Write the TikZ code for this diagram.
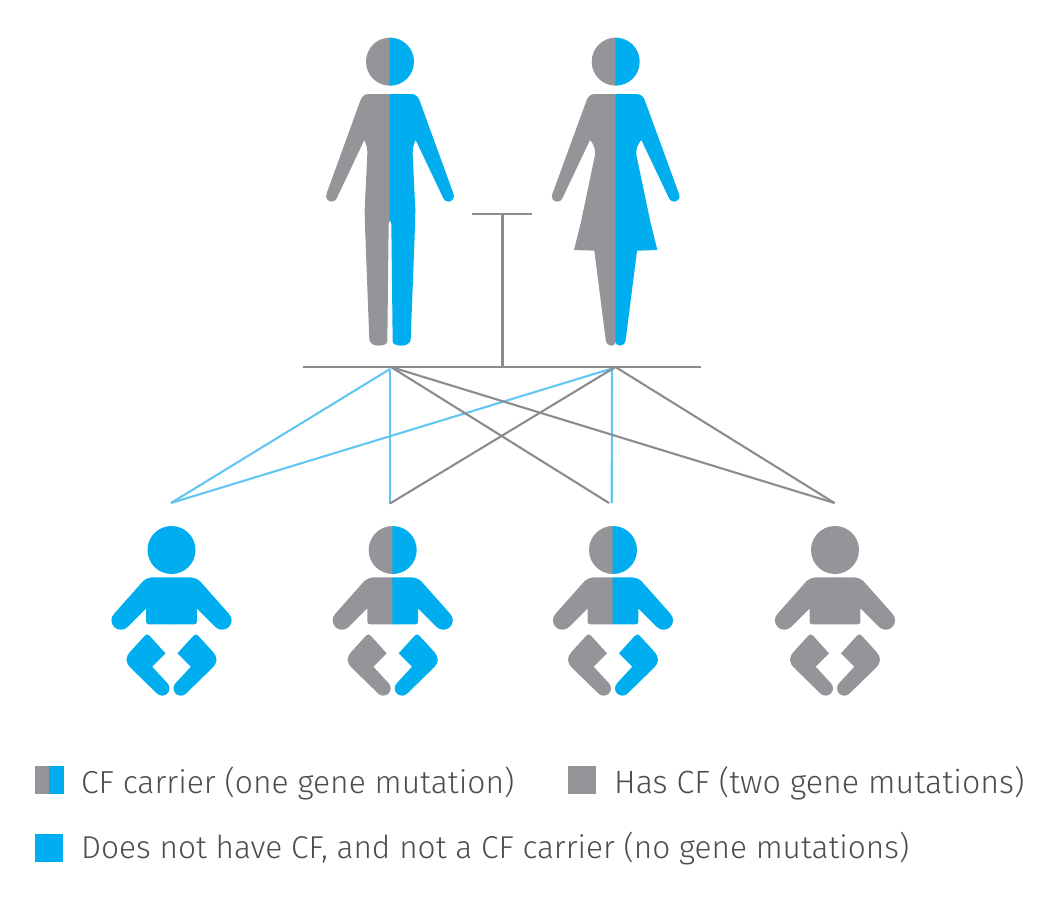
\documentclass[tikz,border=0pt]{standalone}
\usepackage{fontspec}
\setmainfont{Fira Sans Light}
\definecolor{cfgray}{HTML}{939598}
\definecolor{cfblue}{HTML}{00AEEF}
\definecolor{linegray}{HTML}{8C8C90}
\definecolor{lineblue}{HTML}{62C6F2}
\definecolor{txt}{HTML}{4D4D4F}
\tikzset{
  grayline/.style={draw=linegray,line width=2.1pt},
  blueline/.style={draw=lineblue,line width=2.1pt},
  legendtext/.style={anchor=base west,inner sep=0pt,text=txt,font=\fontsize{31.7}{33}\selectfont},
  swatch/.style={draw=none,minimum width=28pt,minimum height=28pt,inner sep=0pt,anchor=north west}
}
% half shapes: x relative to axis, y in zoom units
\newcommand{\halfhead}[2]{\fill[#1] (1,#2-72) -- (0,#2-72) .. controls (-40,#2-72) and (-72,#2-40) .. (-72,#2) .. controls (-72,#2+40) and (-40,#2+72) .. (0,#2+72) -- (1,#2+72) -- cycle;}
\newcommand{\manhalf}[1]{%
  \halfhead{#1}{125}
  \fill[#1] (1,222) -- (-65,222) .. controls (-78,222) and (-86,232) .. (-90,245) -- (-190,520) .. controls (-196,535) and (-185,545) .. (-175,545) .. controls (-167,545) and (-163,540) .. (-160,535) -- (-77,360) .. controls (-70,375) and (-68,385) .. (-68,400) -- (-76,570) -- (-75,620) -- (-62,960) .. controls (-60,972) and (-45,977) .. (-35,977) .. controls (-20,977) and (-8,972) .. (-8,965) -- (-4,612) .. controls (-4,605) and (-2,603) .. (1,603) -- cycle;}
\newcommand{\womanhalf}[1]{%
  \halfhead{#1}{125}
  \fill[#1] (1,222) -- (-62,222) .. controls (-75,222) and (-83,230) .. (-87,240) -- (-190,522) .. controls (-196,535) and (-185,545) .. (-175,545) .. controls (-167,545) and (-163,540) .. (-160,535) -- (-77,360) .. controls (-68,370) and (-60,385) .. (-62,405) -- (-105,610) -- (-125,690) -- (-64,692) -- (-30,960) .. controls (-28,972) and (-20,977) .. (-13,977) .. controls (-5,977) and (-1,972) .. (1,965) -- cycle;}
\newcommand{\babyhalf}[1]{%
  \halfhead{#1}{105}
  \fill[#1] (1,187) -- (-53,187) .. controls (-65,187) and (-75,190) .. (-85,198) -- (-172,296) .. controls (-183,307) and (-183,325) .. (-172,336) .. controls (-161,347) and (-143,347) .. (-132,336) -- (-76,280) -- (-76,320) .. controls (-76,325) and (-73,328) .. (-68,328) -- (1,328) -- cycle;
  \fill[#1] (-80,362) .. controls (-76,357) and (-70,357) .. (-66,362) -- (-18,415) -- (-58,455) -- (-12.4,504.4) .. controls (-4,513) and (-4,527) .. (-12.4,535.6) .. controls (-21,544) and (-35,544) .. (-43.6,535.6) -- (-120,461) .. controls (-140,442) and (-140,428) .. (-122,408) -- cycle;}
\newcommand{\cffig}[5]{% cx, top offset, shape macro, left colour, right colour
  \begin{scope}[xshift=#1pt,yshift=-#2pt,x=.33333pt,y=-.33333pt] #3{#4} \end{scope}
  \begin{scope}[xshift=#1pt,yshift=-#2pt,x=-.33333pt,y=-.33333pt] #3{#5} \end{scope}}
\begin{document}
\begin{tikzpicture}[x=1pt,y=-1pt]
\path[use as bounding box] (0,0) rectangle (1050,900);
% figures
\cffig{390}{20}{\manhalf}{cfgray}{cfblue}
\cffig{615.7}{20}{\womanhalf}{cfgray}{cfblue}
\cffig{171.5}{515}{\babyhalf}{cfblue}{cfblue}
\cffig{392.7}{515}{\babyhalf}{cfgray}{cfblue}
\cffig{613}{515}{\babyhalf}{cfgray}{cfblue}
\cffig{835}{515}{\babyhalf}{cfgray}{cfgray}
% junctions
\coordinate (tl) at (472,214);
\coordinate (tr) at (532,214);
\coordinate (tm) at (502.5,214);
\coordinate (bl) at (303,367);
\coordinate (br) at (701,367);
\coordinate (bm) at (502.5,367);
\coordinate (mg) at (391,367);
\coordinate (mb) at (390,369);
\coordinate (wg) at (615.5,367);
\coordinate (wb) at (612,368.5);
\coordinate (k1) at (171,503);
\coordinate (k2) at (390,503.5);
\coordinate (k3b) at (611.7,503);
\coordinate (k3g) at (609,503);
\coordinate (k4) at (834.5,503);
% connectors
\draw[blueline] (mb) -- (k1);
\draw[blueline] (wb) -- (k1);
\draw[blueline] (mb) -- (k2);
\draw[blueline] (wb) -- (k3b);
\draw[grayline] (mg) -- (k3g);
\draw[grayline] (mg) -- (k4);
\draw[grayline] (k2) -- (wg);
\draw[grayline] (wg) -- (k4);
\draw[grayline,line width=2.4pt] (bl) -- (br);
\draw[grayline,line width=2.4pt] (tl) -- (tr);
\draw[grayline,line width=2.4pt] (tm) -- (bm);
% legend
\node[swatch,fill=cfgray,minimum width=14pt] (s1a) at (35,765.5) {};
\node[swatch,fill=cfblue,minimum width=14.3pt] (s1b) at (49,765.5) {};
\node[swatch,fill=cfgray] (s2) at (567.5,765.5) {};
\node[swatch,fill=cfblue] (s3) at (35,833.3) {};
\node[legendtext,font=\fontsize{31.8}{33}\selectfont] (t1) at (81,793) {CF carrier (one gene mutation)};
\node[legendtext,font=\fontsize{32.2}{33}\selectfont] (t2) at (614,793) {Has CF (two gene mutations)};
\node[legendtext,font=\fontsize{31.6}{33}\selectfont] (t3) at (81,858) {Does not have CF, and not a CF carrier (no gene mutations)};
\end{tikzpicture}
\end{document}
